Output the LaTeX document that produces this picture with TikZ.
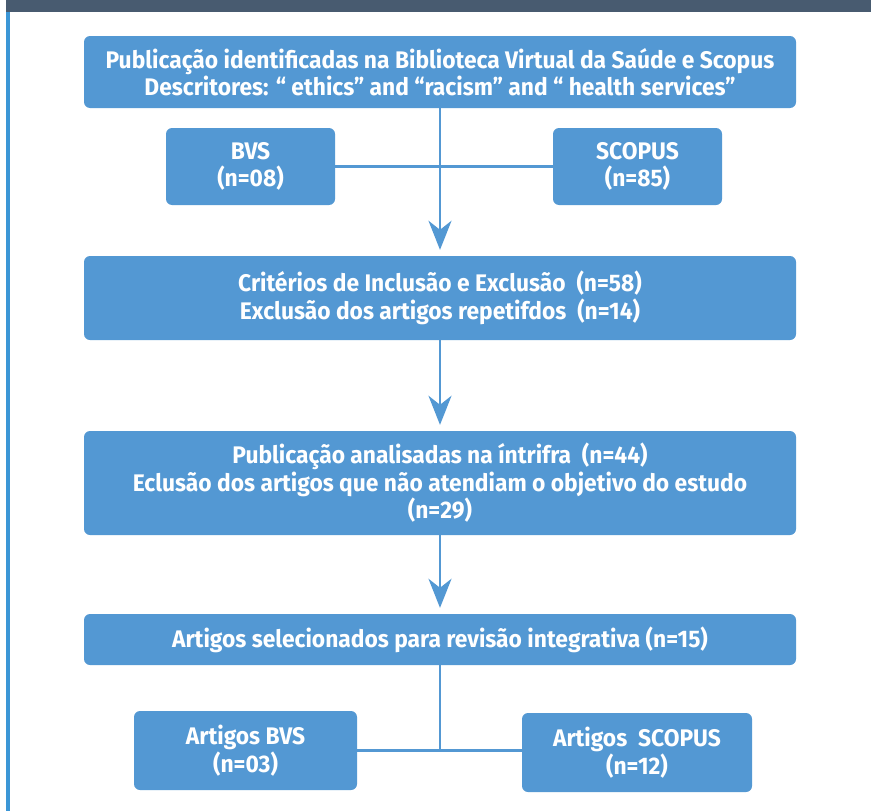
\documentclass[tikz,border=0pt]{standalone}
\usepackage{fontspec}
\setmainfont{Fira Sans}[FakeStretch=0.95]
\usetikzlibrary{arrows.meta}
\definecolor{boxblue}{HTML}{5398D3}
\definecolor{barslate}{HTML}{485B70}
\definecolor{sideblue}{HTML}{3B96D6}
\tikzset{
  flowbox/.style={rectangle, rounded corners=6pt, fill=boxblue, draw=none,
    text=white, font=\fontsize{24}{27.5}\selectfont\bfseries, align=center,
    inner sep=0pt, anchor=center},
  link/.style={draw=boxblue, line width=2.8pt},
  flowarrow/.style={link, -{Stealth[length=29pt,width=23pt,inset=9pt]}, shorten >=6pt}
}
\begin{document}
\begin{tikzpicture}[x=1pt,y=-1pt]
\useasboundingbox (0,0) rectangle (871,811);
\fill[white] (0,0) rectangle (871,811);
% top bar and left rule
\fill[barslate] (6,0) rectangle (871,12);
\fill[sideblue] (6,12) rectangle (10,811);

\node[flowbox, minimum width=712pt, minimum height=72pt] (b1) at (440,72)
  {Publicação identificadas na Biblioteca Virtual da Saúde e Scopus\\Descritores: “ ethics” and “racism” and “ health services”};
\node[flowbox, minimum width=169pt, minimum height=77pt] (bvs) at (250.5,166.5) {BVS\\(n=08)};
\node[flowbox, minimum width=169pt, minimum height=77pt] (scopus) at (637.5,166.5) {SCOPUS\\(n=85)};
\node[flowbox, minimum width=712pt, minimum height=84pt] (b2) at (440,298)
  {Critérios de Inclusão e Exclusão\ \ (n=58)\\Exclusão dos artigos repetifdos\ \ (n=14)};
\node[flowbox, minimum width=712pt, minimum height=104pt] (b3) at (440,483)
  {Publicação analisadas na íntrifra\ \ (n=44)\\Eclusão dos artigos que não atendiam o objetivo do estudo\\(n=29)};
\node[flowbox, minimum width=712pt, minimum height=51pt] (b4) at (440,639.5)
  {Artigos selecionados para revisão integrativa (n=15)};
\node[flowbox, minimum width=223pt, minimum height=79pt] (abvs) at (245.5,750.5) {Artigos BVS\\(n=03)};
\node[flowbox, minimum width=230pt, minimum height=79pt] (asc) at (637,752.5) {Artigos\ \ SCOPUS\\(n=12)};

\draw[link] (bvs.east) -- (scopus.west |- bvs.east);
\draw[flowarrow] (b1) -- (b2);
\draw[flowarrow] (b2) -- (b3);
\draw[flowarrow] (b3) -- (b4);
\coordinate (j) at (b4.south |- abvs.east);
\draw[link] (b4.south) -- (j);
\draw[link] (abvs.east) -- (asc.west |- abvs.east);
\end{tikzpicture}
\end{document}
